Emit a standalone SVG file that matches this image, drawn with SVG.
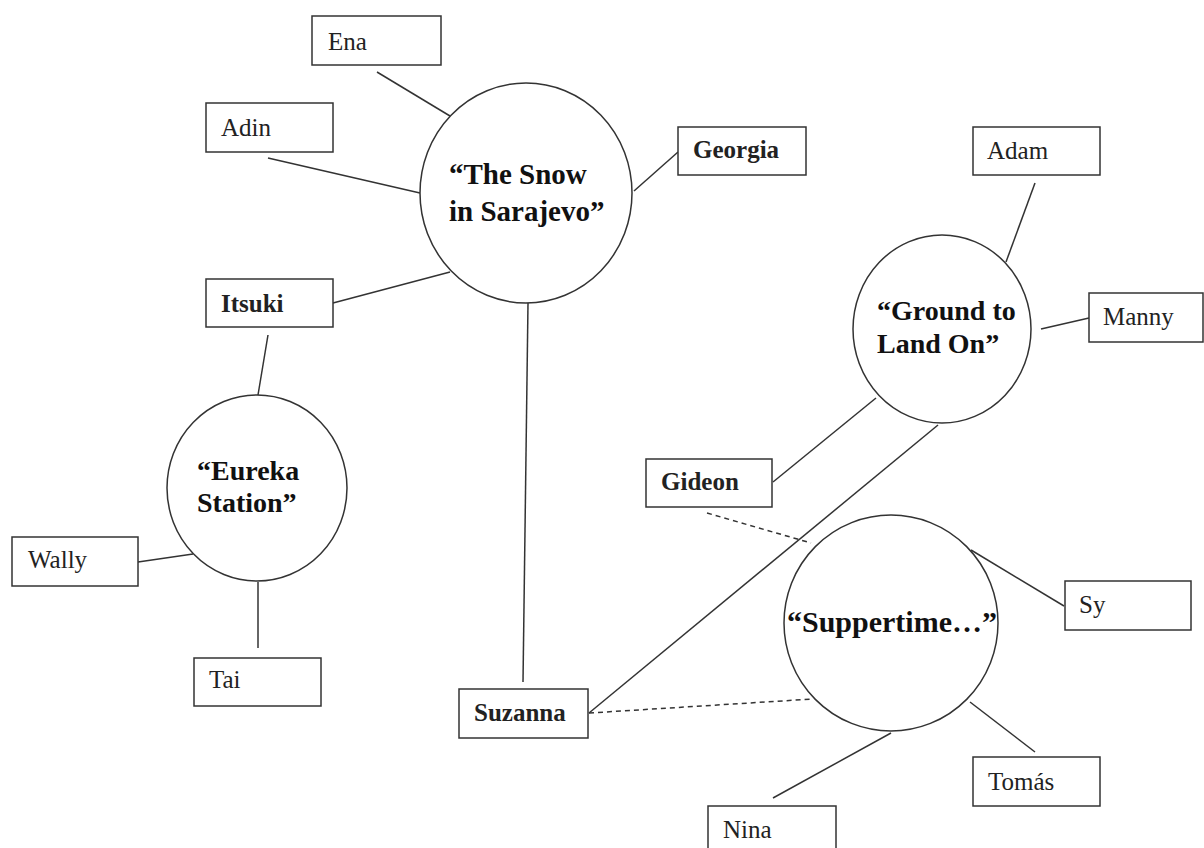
<svg xmlns="http://www.w3.org/2000/svg" width="1204" height="848" viewBox="0 0 1204 848">
<style>
.box{fill:#fff;stroke:#333;stroke-width:1.5}
.ell{fill:#fff;stroke:#333;stroke-width:1.5}
.ln{stroke:#333;stroke-width:1.5;fill:none}
.dash{stroke:#333;stroke-width:1.5;fill:none;stroke-dasharray:5 4}
.lab{font-family:"Liberation Serif","Times New Roman",serif;font-size:25px;fill:#222}
.b{font-weight:bold}
.title{font-family:"Liberation Serif","Times New Roman",serif;font-weight:bold;fill:#111}
</style>
<rect width="1204" height="848" fill="#fff"/>
<g id="connectors">
<line class="ln" x1="377" y1="72" x2="450" y2="116"/>
<line class="ln" x1="268" y1="158" x2="420" y2="193"/>
<line class="ln" x1="333" y1="303" x2="450" y2="272"/>
<line class="ln" x1="634" y1="191" x2="678" y2="152"/>
<line class="ln" x1="528" y1="303" x2="523" y2="682"/>
<line class="ln" x1="268" y1="335" x2="258" y2="395"/>
<line class="ln" x1="138" y1="562" x2="193" y2="554"/>
<line class="ln" x1="258" y1="582" x2="258" y2="648"/>
<line class="ln" x1="1035" y1="183" x2="1006" y2="262"/>
<line class="ln" x1="1041" y1="329" x2="1089" y2="318"/>
<line class="ln" x1="773" y1="482" x2="876" y2="398"/>
<line class="ln" x1="938" y1="425" x2="589" y2="713"/>
<line class="dash" x1="707" y1="513" x2="811" y2="543"/>
<line class="dash" x1="589" y1="713" x2="813" y2="699"/>
<line class="ln" x1="971" y1="550" x2="1064" y2="606"/>
<line class="ln" x1="970" y1="702" x2="1035" y2="752"/>
<line class="ln" x1="891" y1="733" x2="773" y2="798"/>
</g>
<g id="snow">
<ellipse class="ell" cx="526" cy="193" rx="106" ry="110"/>
<text class="title" font-size="29" x="449" y="184">“The Snow</text>
<text class="title" font-size="29" x="449" y="221">in Sarajevo”</text>
</g>
<g id="eureka">
<ellipse class="ell" cx="257" cy="488" rx="90" ry="93"/>
<text class="title" font-size="28" x="197" y="480">“Eureka</text>
<text class="title" font-size="28" x="197" y="512">Station”</text>
</g>
<g id="ground">
<ellipse class="ell" cx="942" cy="329" rx="89" ry="94"/>
<text class="title" font-size="28" x="877" y="320">“Ground to</text>
<text class="title" font-size="28" x="877" y="353">Land On”</text>
</g>
<g id="supper">
<ellipse class="ell" cx="891" cy="623" rx="107" ry="108"/>
<text class="title" font-size="30" x="787" y="632">“Suppertime…”</text>
</g>
<g id="ena"><rect class="box" x="312" y="16" width="129" height="49"/><text class="lab" x="328" y="50">Ena</text></g>
<g id="adin"><rect class="box" x="206" y="103" width="127" height="49"/><text class="lab" x="221" y="136">Adin</text></g>
<g id="itsuki"><rect class="box" x="206" y="279" width="127" height="48"/><text class="lab b" x="221" y="312">Itsuki</text></g>
<g id="georgia"><rect class="box" x="678" y="127" width="128" height="48"/><text class="lab b" x="693" y="158">Georgia</text></g>
<g id="wally"><rect class="box" x="12" y="537" width="126" height="49"/><text class="lab" x="28" y="568">Wally</text></g>
<g id="tai"><rect class="box" x="194" y="658" width="127" height="48"/><text class="lab" x="209" y="688">Tai</text></g>
<g id="adam"><rect class="box" x="973" y="127" width="127" height="48"/><text class="lab" x="987" y="159">Adam</text></g>
<g id="manny"><rect class="box" x="1089" y="293" width="114" height="49"/><text class="lab" x="1103" y="325">Manny</text></g>
<g id="gideon"><rect class="box" x="646" y="459" width="126" height="48"/><text class="lab b" x="661" y="490">Gideon</text></g>
<g id="suzanna"><rect class="box" x="459" y="689" width="129" height="49"/><text class="lab b" x="474" y="721">Suzanna</text></g>
<g id="sy"><rect class="box" x="1065" y="581" width="126" height="49"/><text class="lab" x="1079" y="613">Sy</text></g>
<g id="tomas"><rect class="box" x="973" y="757" width="127" height="49"/><text class="lab" x="988" y="790">Tomás</text></g>
<g id="nina"><rect class="box" x="708" y="806" width="128" height="49"/><text class="lab" x="723" y="838">Nina</text></g>
</svg>
